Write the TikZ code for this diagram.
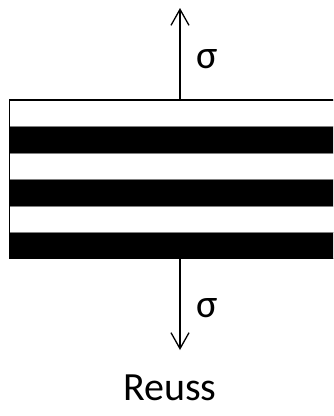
\documentclass[tikz,border=0pt]{standalone}
\usepackage{fontspec}
\setmainfont{Carlito}
\usetikzlibrary{arrows.meta}
\begin{document}
\begin{tikzpicture}[x=1pt,y=-1pt,
  blackband/.style={fill=black,draw=gray,line width=0.8pt},
  whiteband/.style={fill=white,draw=gray,line width=0.8pt},
  force/.style={line width=1.3pt,-{Straight Barb[length=16pt,width=18pt,line width=1.3pt]}},
  lbl/.style={font=\fontsize{40}{42}\selectfont,inner sep=0pt},
  title/.style={font=\fontsize{40}{42}\selectfont,inner sep=0pt}]
\useasboundingbox (0,0) rectangle (333,416);
\clip (0,0) rectangle (333,416);
\draw[whiteband] (9.5,100) rectangle (340,126.5);
\draw[blackband] (9.5,126.5) rectangle (340,153);
\draw[whiteband] (9.5,153) rectangle (340,179.5);
\draw[blackband] (9.5,179.5) rectangle (340,206);
\draw[whiteband] (9.5,206) rectangle (340,232);
\draw[blackband] (9.5,232) rectangle (340,258.5);
\draw[line width=1.3pt] (340,100) -- (9.5,100) -- (9.5,258.5) -- (340,258.5);
\coordinate (top) at (180,100);
\coordinate (bot) at (180,258.5);
\coordinate (toptip) at (180,8);
\coordinate (bottip) at (180,350);
\draw[force] (top) -- (toptip);
\draw[force] (bot) -- (bottip);
\node[lbl] (s1) at (207,59) {σ};
\node[lbl] (s2) at (207,308) {σ};
\node[title] (t) at (170,388) {Reuss};
\end{tikzpicture}
\end{document}
